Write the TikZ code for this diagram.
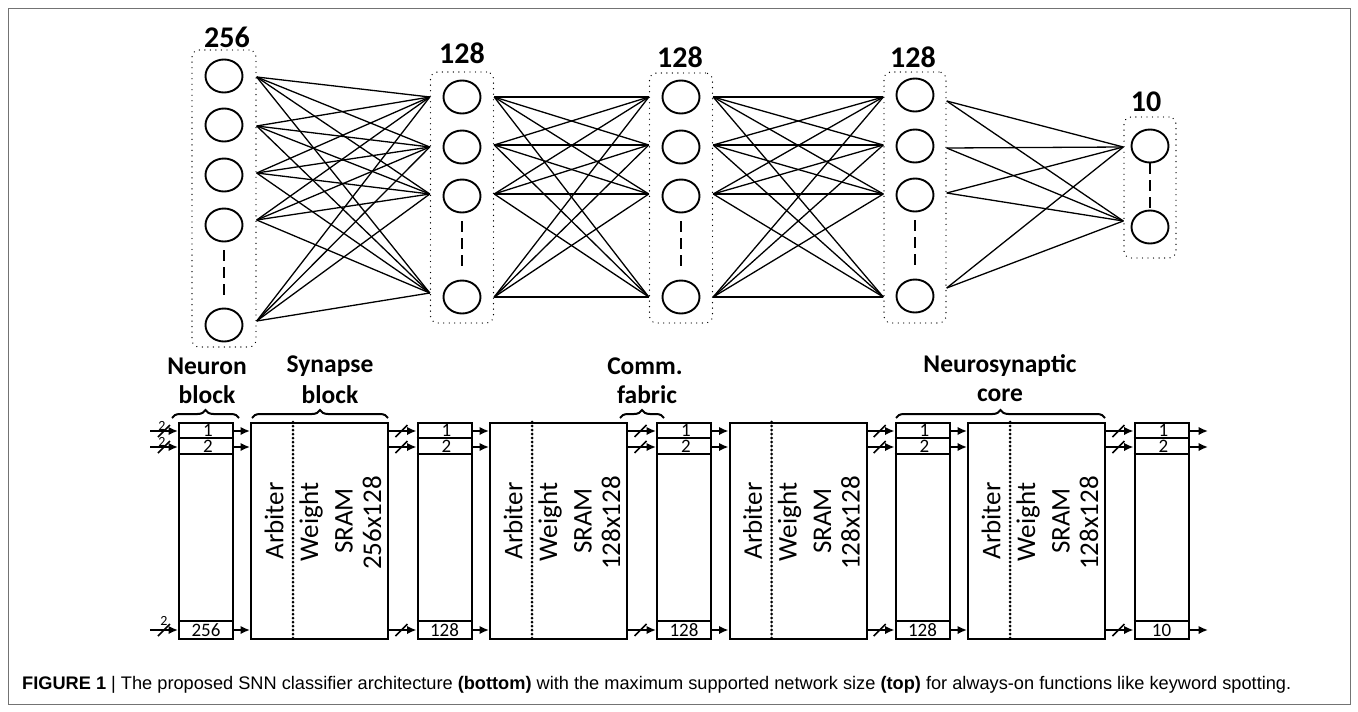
\documentclass[tikz,border=0pt]{standalone}
\usepackage{fontspec}
\setmainfont{Carlito}
\newfontfamily\capfont{Liberation Sans}
\usetikzlibrary{shapes.geometric,arrows.meta,decorations.pathreplacing,calc}
\begin{document}
\begin{tikzpicture}[x=1pt,y=-1pt,
  neuron/.style={ellipse,draw,line width=1.9pt,minimum width=37pt,minimum height=33pt,inner sep=0pt},
  layerbox/.style={draw,rounded corners=7pt,line width=1.4pt,dash pattern=on 0.01pt off 5.5pt,line cap=round},
  conn/.style={line width=1.3pt},
  vdash/.style={line width=2.3pt,dash pattern=on 11pt off 6pt},
  toplabel/.style={font=\bfseries\fontsize{30}{32}\selectfont,inner sep=0pt},
  botlabel/.style={font=\bfseries\fontsize{25.5}{27}\selectfont,inner sep=0pt},
  blk/.style={draw,line width=2pt,minimum width=54pt,minimum height=216pt,inner sep=0pt},
  sblk/.style={draw,line width=2pt,minimum width=137pt,minimum height=216pt,inner sep=0pt},
  rowline/.style={line width=2pt},
  num/.style={font=\fontsize{19}{19}\selectfont,inner sep=0pt},
  rottext/.style={font=\fontsize{27}{27}\selectfont,rotate=90,inner sep=0pt},
  arr/.style={line width=1.8pt,-{Latex[length=9.5pt,width=8.5pt]}},
  sepline/.style={line width=3pt,dash pattern=on 0pt off 4pt,line cap=round},
  bracestyle/.style={line width=2pt,decorate,decoration={brace,amplitude=8pt}},
  slashmark/.pic={\draw[line width=1.6pt] (-6,6) -- (6,-6);},
  smalltwo/.style={font=\fontsize{14}{14}\selectfont,inner sep=0pt}
]
\useasboundingbox (0,0) rectangle (1358,712);
\fill[white] (0,0) rectangle (1358,712);
\draw[line width=1pt,black!55] (8,8) rectangle (1350,704);

% ---------------- top network ----------------
\node[layerbox,minimum width=64pt,minimum height=297pt] (L1) at (224,198.5) {};
\node[layerbox,minimum width=63pt,minimum height=251pt] (L2) at (462,197.5) {};
\node[layerbox,minimum width=63pt,minimum height=250pt] (L3) at (681,198) {};
\node[layerbox,minimum width=62pt,minimum height=251pt] (L4) at (915,197.5) {};
\node[layerbox,minimum width=52pt,minimum height=141pt] (L5) at (1150,187.5) {};

\foreach \i/\y in {1/76,2/125,3/175,4/225,5/325} \node[neuron] (a\i) at (224,\y) {};
\foreach \i/\y in {1/97,2/147,3/196,4/297} \node[neuron] (b\i) at (462,\y) {};
\foreach \i/\y in {1/97,2/147,3/196,4/297} \node[neuron] (c\i) at (681,\y) {};
\foreach \i/\y in {1/95,2/146,3/195,4/296} \node[neuron] (d\i) at (915,\y) {};
\foreach \i/\y in {1/146,2/227} \node[neuron] (e\i) at (1150,\y) {};

\draw[vdash] ([yshift=-8pt]a4.south) -- ([yshift=10pt]a5.north);
\draw[vdash] ([yshift=-8pt]b3.south) -- ([yshift=10pt]b4.north);
\draw[vdash] ([yshift=-8pt]c3.south) -- ([yshift=10pt]c4.north);
\draw[vdash] ([yshift=-8pt]d3.south) -- ([yshift=10pt]d4.north);
\draw[vdash] (e1.south) -- (e2.north);

\node[toplabel] (t1) at (227,37) {256};
\node[toplabel] (t2) at (462,53) {128};
\node[toplabel] (t3) at (680,57) {128};
\node[toplabel] (t4) at (913,57) {128};
\node[toplabel] (t5) at (1146,102) {10};

\foreach \ya in {77,126,173,220,321}
  \foreach \yb in {97,147,194,293}
    \draw[conn] (L1.east |- 0,\ya) -- (L2.west |- 0,\yb);
\foreach \ya in {97,145,194,297}
  \foreach \yb in {97,145,194,297}
    \draw[conn] (L2.east |- 0,\ya) -- (L3.west |- 0,\yb);
\foreach \ya in {97,145,194,297}
  \foreach \yb in {97,145,194,297}
    \draw[conn] (L3.east |- 0,\ya) -- (L4.west |- 0,\yb);
\foreach \ya in {101,148,193,288}
  \foreach \yb in {147,221}
    \draw[conn] (L4.east |- 0,\ya) -- (L5.west |- 0,\yb);

% ---------------- bottom architecture ----------------
\node[blk] (n1) at (206,531) {};
\node[blk] (n2) at (444.5,531) {};
\node[blk] (n3) at (684,531) {};
\node[blk] (n4) at (922.5,531) {};
\node[blk] (n5) at (1161.5,531) {};
\node[sblk] (s1) at (319.5,531) {};
\node[sblk] (s2) at (558.5,531) {};
\node[sblk] (s3) at (798,531) {};
\node[sblk] (s4) at (1036.5,531) {};

\foreach \n/\last in {n1/256,n2/128,n3/128,n4/128,n5/10}{
  \draw[rowline] (\n.west |- 0,438) -- (\n.east |- 0,438);
  \draw[rowline] (\n.west |- 0,454) -- (\n.east |- 0,454);
  \draw[rowline] (\n.west |- 0,621) -- (\n.east |- 0,621);
  \node[num] at ([xshift=2pt]\n.center |- 0,430) {1};
  \node[num] at ([xshift=2pt]\n.center |- 0,446.5) {2};
  \node[num] at (\n.center |- 0,630.5) {\last};
}

\foreach \s/\sz in {s1/256x128,s2/128x128,s3/128x128,s4/128x128}{
  \draw[sepline] ([xshift=43pt]\s.north west) -- ([xshift=43pt]\s.south west);
  \node[rottext] at ([xshift=24pt]\s.west |- 0,521) {Arbiter};
  \node[rottext] at ([xshift=61pt]\s.west |- 0,522) {Weight};
  \node[rottext] at ([xshift=94pt]\s.west |- 0,521) {SRAM};
  \node[rottext] at ([xshift=122pt]\s.west |- 0,523) {\sz};
}

% neuron -> synapse arrows
\foreach \n/\s in {n1/s1,n2/s2,n3/s3,n4/s4}
  \foreach \y in {431,447,630}
    \draw[arr] (\n.east |- 0,\y) -- (\s.west |- 0,\y);

% synapse -> neuron arrows with bus slashes
\foreach \s/\n in {s1/n2,s2/n3,s3/n4,s4/n5}
  \foreach \y in {431,447,630}{
    \draw[arr] (\s.east |- 0,\y) -- (\n.west |- 0,\y);
    \path ($(\s.east |- 0,\y)!0.45!(\n.west |- 0,\y)$) pic {slashmark};
  }

% inputs to first neuron block
\coordinate (i1) at (150,431);
\coordinate (i2) at (150,447);
\coordinate (i3) at (150,630);
\foreach \c in {i1,i2,i3}{
  \draw[arr] (\c) -- (n1.west |- \c);
  \path ($(\c)!0.5!(n1.west |- \c)$) pic {slashmark};
}
\node[smalltwo] at (162,426) {2};
\node[smalltwo] at (162,442) {2};
\node[smalltwo] at (164,621) {2};

% outputs of last neuron block
\coordinate (o1) at (1208,431);
\coordinate (o2) at (1208,447);
\coordinate (o3) at (1208,630);
\foreach \c in {o1,o2,o3}
  \draw[arr] (n5.east |- \c) -- (\c);

% braces and labels
\draw[bracestyle] (172,418) -- (239,418);
\draw[bracestyle] (252,418) -- (388,418);
\draw[bracestyle] (620,418) -- (664,418);
\draw[bracestyle] (896,418) -- (1105,418);

\node[botlabel] (l1) at (207,366) {Neuron};
\node[botlabel] (l2) at (207,395) {block};
\node[botlabel] (l3) at (330,366) {Synapse};
\node[botlabel] (l4) at (330,395) {block};
\node[botlabel] (l5) at (645,366) {Comm.};
\node[botlabel] (l6) at (647,395) {fabric};
\node[botlabel] (l7) at (1000,366) {Neurosynaptic};
\node[botlabel] (l8) at (1000,395) {core};

% caption
\node[anchor=base west,inner sep=0pt,font=\capfont\fontsize{18.2}{20}\selectfont] (cap) at (22,689)
  {\textbf{FIGURE 1} | The proposed SNN classifier architecture \textbf{(bottom)} with the maximum supported network size \textbf{(top)} for always-on functions like keyword spotting.};
\end{tikzpicture}
\end{document}
